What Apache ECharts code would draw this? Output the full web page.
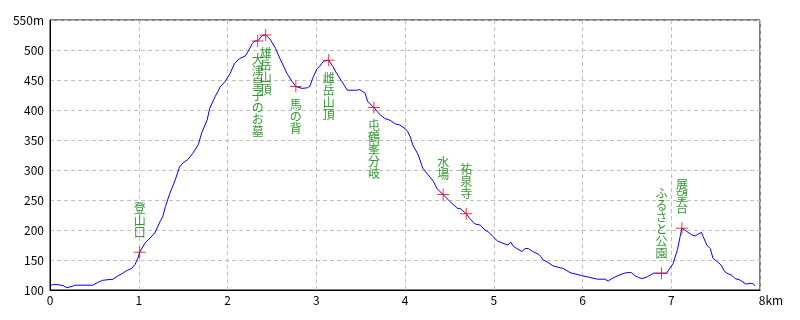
<!DOCTYPE html>
<html><head><meta charset="utf-8">
<script src="https://cdn.jsdelivr.net/npm/echarts@6/dist/echarts.min.js"></script>
<style>html,body{margin:0;padding:0;background:#fff}#c{width:800px;height:320px}</style>
</head><body><div id="c"></div>
<script>
// Distance along route (km)
const distKm = [0.00,0.03,0.09,0.15,0.19,0.25,0.28,0.48,0.53,0.59,0.64,0.71,0.76,0.82,0.86,0.92,0.96,0.99,1.01,1.07,
  1.13,1.18,1.24,1.27,1.30,1.35,1.41,1.46,1.50,1.55,1.61,1.67,1.71,1.77,1.80,1.86,1.92,1.97,2.03,2.08,
  2.14,2.20,2.23,2.28,2.31,2.34,2.39,2.43,2.48,2.54,2.59,2.67,2.73,2.77,2.84,2.90,2.93,2.96,3.01,3.04,
  3.08,3.10,3.14,3.19,3.23,3.29,3.35,3.46,3.49,3.55,3.58,3.65,3.72,3.77,3.83,3.89,3.94,4.00,4.03,4.06,
  4.09,4.15,4.20,4.26,4.32,4.36,4.43,4.51,4.59,4.62,4.69,4.73,4.79,4.85,4.90,4.94,4.99,5.04,5.10,5.16,
  5.19,5.22,5.26,5.32,5.35,5.39,5.44,5.50,5.53,5.55,5.61,5.67,5.78,5.86,5.99,6.08,6.17,6.25,6.29,6.33,
  6.40,6.45,6.50,6.55,6.59,6.63,6.67,6.73,6.80,6.89,6.95,6.97,7.02,7.07,7.10,7.12,7.13,7.18,7.23,7.27,
  7.30,7.34,7.36,7.40,7.44,7.47,7.52,7.56,7.60,7.64,7.68,7.72,7.77,7.84,7.89,7.92,7.94];
// Elevation (m)
const elevM = [107,109,109,107,104,106,108,108,112,116,117,118,123,128,132,136,143,153,163,178,
  187,195,214,222,239,261,283,305,312,317,328,342,362,383,403,422,439,447,461,478,
  486,490,497,511,515,515,524,525,518,503,486,461,447,439,436,437,440,453,469,473,
  481,482,483,472,461,447,433,433,434,428,414,404,392,386,383,377,375,369,364,355,
  341,325,303,292,281,269,259,247,236,236,227,219,210,208,200,197,189,182,178,175,
  180,173,169,164,169,169,164,160,156,151,146,140,136,129,124,121,118,118,115,119,
  124,127,129,129,124,121,119,122,128,128,128,133,144,167,189,203,200,197,192,190,
  193,196,189,175,169,153,147,142,131,127,125,119,117,110,111,111,107];
// Waypoints
const spotNames = ['登山口','大津皇子のお墓','雄岳山頂','馬の背','雌岳山頂','屯鶴峯分岐','水場','祐泉寺','ふるさと公園','展望台'];
const spotKm = [1.01,2.34,2.43,2.77,3.14,3.65,4.43,4.69,6.89,7.12];
const spotM = [163,515,525,439,483,404,259,227,128,203];
// Axis ticks
const xTicks = [0,1,2,3,4,5,6,7,8];
const yTicks = [100,150,200,250,300,350,400,450,500,550];

const ABOVE = new Set(['登山口','水場','祐泉寺','ふるさと公園','展望台']);
const FONT = "'Noto Sans CJK JP', sans-serif";
const chart = echarts.init(document.getElementById('c'), null, {renderer:'canvas'});
const crossPath = 'path://M0,5.5H12V6.5H0Z M5.5,0H6.5V12H5.5Z';
const spotData = spotNames.map((n,i)=>({
  value:[spotKm[i], spotM[i]],
  name:n,
  label:{
    show:true,
    position: ABOVE.has(n) ? 'top' : 'bottom',
    distance: ABOVE.has(n) ? 8 : 6,
    formatter: n.split('').join('\n')
  }
}));
chart.setOption({
  animation:false,
  backgroundColor:'#fff',
  grid:{left:50,right:40,top:20,bottom:30,show:true,borderColor:'#000',borderWidth:1,backgroundColor:'transparent'},
  xAxis:{type:'value',min:xTicks[0],max:xTicks[xTicks.length-1],interval:1,
    axisLine:{show:true,lineStyle:{color:'#000',width:1}},
    axisTick:{show:false},
    axisLabel:{color:'#000',fontSize:12,fontFamily:FONT,margin:4,
      formatter:v=> v===xTicks[xTicks.length-1] ? '{u|'+v+'km}' : String(v),
      rich:{u:{color:'#000',fontSize:12,fontFamily:FONT,padding:[0,0,0,22]}}},
    splitLine:{show:true,lineStyle:{color:'#c0c0c0',type:[4,3],width:1}}},
  yAxis:{type:'value',min:yTicks[0],max:yTicks[yTicks.length-1],interval:50,
    axisLine:{show:true,lineStyle:{color:'#000',width:1}},
    axisTick:{show:false},
    axisLabel:{color:'#000',fontSize:12,fontFamily:FONT,margin:6,
      formatter:v=> v===yTicks[yTicks.length-1] ? v+'m' : String(v)},
    splitLine:{show:true,lineStyle:{color:'#c0c0c0',type:[4,3],width:1}}},
  series:[
    {type:'line',data:distKm.map((x,i)=>[x,elevM[i]]),symbol:'none',
      lineStyle:{color:'#0000ff',width:1},z:2},
    {type:'scatter',data:spotData,symbol:crossPath,symbolSize:12,
      itemStyle:{color:'#ff0000'},z:3,
      label:{color:'#008000',fontSize:12,fontFamily:FONT,lineHeight:12,align:'center'}}
  ]
});
</script></body></html>
